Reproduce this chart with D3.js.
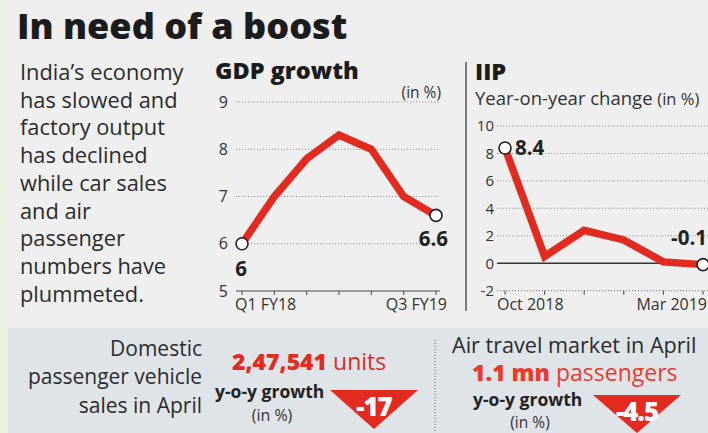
<!DOCTYPE html>
<html>
<head>
<meta charset="utf-8">
<script src="https://cdn.jsdelivr.net/npm/d3@7"></script>
<style>
  body { margin: 0; background: #efefef; }
  svg { display: block; font-family: 'Open Sans', sans-serif; }
</style>
</head>
<body>
<div id="chart"></div>
<script>
// GDP growth, quarterly (in %)
var gdpQuarters = ['Q1 FY18', 'Q2 FY18', 'Q3 FY18', 'Q4 FY18', 'Q1 FY19', 'Q2 FY19', 'Q3 FY19'];
var gdpValues = [6.0, 7.0, 7.8, 8.3, 8.0, 7.0, 6.6];
var gdpTicks = [5, 6, 7, 8, 9];

// IIP, year-on-year change (in %)
var iipMonths = ['Oct 2018', 'Nov 2018', 'Dec 2018', 'Jan 2019', 'Feb 2019', 'Mar 2019'];
var iipValues = [8.4, 0.5, 2.4, 1.7, 0.1, -0.1];
var iipTicks = [-2, 0, 2, 4, 6, 8, 10];

var introLines = ['India\u2019s economy', 'has slowed and', 'factory output', 'has declined',
  'while car sales', 'and air', 'passenger', 'numbers have', 'plummeted.'];

var W = 708, H = 433;
var RED = '#e32a1f';
var DARK = '#222';

var svg = d3.select('#chart').append('svg')
  .attr('width', W)
  .attr('height', H);

// background
svg.append('rect').attr('width', W).attr('height', H).attr('fill', '#efefef');
svg.append('rect').attr('x', 8).attr('y', 328).attr('width', W - 8).attr('height', H - 328).attr('fill', '#dfe4e8');
svg.append('rect').attr('width', 8).attr('height', H).attr('fill', '#edf2e3');

// title
svg.append('text')
  .attr('x', 17).attr('y', 38.5)
  .attr('font-size', 36).attr('font-weight', 800)
  .attr('fill', '#1c1c1c')
  .text('In need of a boost');

// intro paragraph
svg.append('g').selectAll('text')
  .data(introLines)
  .join('text')
  .attr('x', 20)
  .attr('y', function (d, i) { return 80 + i * 27.7; })
  .attr('font-size', 21.8)
  .attr('fill', '#2b2b2b')
  .text(function (d) { return d; });

function lineChart(g, cfg) {
  var x = d3.scalePoint(cfg.cats, cfg.xRange);
  var y = d3.scaleLinear(cfg.yDomain, cfg.yRange);

  // grid lines
  g.append('g').selectAll('line')
    .data(cfg.ticks.filter(function (t) { return t !== cfg.yDomain[0] && t !== cfg.solid; }))
    .join('line')
    .attr('x1', cfg.gridX[0]).attr('x2', cfg.gridX[1])
    .attr('y1', function (d) { return y(d); }).attr('y2', function (d) { return y(d); })
    .attr('stroke', '#9a9a9a').attr('stroke-width', 1).attr('stroke-dasharray', '1.2,1.8');

  // baseline axis (bottom)
  g.append('line')
    .attr('x1', cfg.gridX[0]).attr('x2', cfg.gridX[1])
    .attr('y1', y(cfg.yDomain[0])).attr('y2', y(cfg.yDomain[0]))
    .attr('stroke', cfg.baseDotted ? '#777' : '#444')
    .attr('stroke-width', 1)
    .attr('stroke-dasharray', cfg.baseDotted ? '1.2,1.8' : null);

  g.append('g').selectAll('line')
    .data(cfg.cats)
    .join('line')
    .attr('x1', function (d) { return x(d); }).attr('x2', function (d) { return x(d); })
    .attr('y1', y(cfg.yDomain[0])).attr('y2', y(cfg.yDomain[0]) + 4)
    .attr('stroke', '#444').attr('stroke-width', 1);

  if (cfg.solid !== undefined) {
    g.append('line')
      .attr('x1', cfg.gridX[0]).attr('x2', cfg.gridX[1])
      .attr('y1', y(cfg.solid)).attr('y2', y(cfg.solid))
      .attr('stroke', '#333').attr('stroke-width', 1.3);
  }

  // tick labels
  g.append('g').selectAll('text')
    .data(cfg.ticks)
    .join('text')
    .attr('x', cfg.labelX)
    .attr('y', function (d) { return y(d); })
    .attr('dy', '0.35em')
    .attr('text-anchor', 'end')
    .attr('font-size', cfg.tickSize)
    .attr('fill', '#333')
    .text(function (d) { return d; });

  // first and last category labels
  var first = cfg.cats[0], last = cfg.cats[cfg.cats.length - 1];
  g.append('text')
    .attr('x', x(first) + cfg.catDx[0]).attr('y', 310)
    .attr('font-size', cfg.catSize).attr('fill', '#333')
    .text(first);
  g.append('text')
    .attr('x', x(last) + cfg.catDx[1]).attr('y', 310)
    .attr('text-anchor', 'end')
    .attr('font-size', cfg.catSize).attr('fill', '#333')
    .text(last);

  var line = d3.line()
    .x(function (d, i) { return x(cfg.cats[i]); })
    .y(function (d) { return y(d); });

  g.append('path')
    .datum(cfg.values)
    .attr('d', line)
    .attr('fill', 'none')
    .attr('stroke', RED)
    .attr('stroke-width', 7.5)
    .attr('stroke-linejoin', 'miter');

  var ends = [0, cfg.values.length - 1];
  g.append('g').selectAll('circle')
    .data(ends)
    .join('circle')
    .attr('cx', function (i) { return x(cfg.cats[i]); })
    .attr('cy', function (i) { return y(cfg.values[i]); })
    .attr('r', 6)
    .attr('fill', '#fff')
    .attr('stroke', DARK)
    .attr('stroke-width', 1.6);

  // value labels
  g.append('g').selectAll('text')
    .data(ends)
    .join('text')
    .attr('x', function (i, k) { return cfg.valPos[k][3] !== undefined ? cfg.valPos[k][3] : x(cfg.cats[i]) + cfg.valPos[k][0]; })
    .attr('y', function (i, k) { return y(cfg.values[i]) + cfg.valPos[k][1]; })
    .attr('text-anchor', function (i, k) { return cfg.valPos[k][2]; })
    .attr('font-size', 20.5).attr('font-weight', 700)
    .attr('fill', DARK)
    .text(function (i) { return cfg.values[i]; });

  return {x: x, y: y};
}

// GDP growth
var gdp = svg.append('g');
gdp.append('text')
  .attr('x', 215).attr('y', 79)
  .attr('font-size', 23.5).attr('font-weight', 800).attr('fill', '#1c1c1c')
  .text('GDP growth');
gdp.append('text')
  .attr('x', 441).attr('y', 98).attr('text-anchor', 'end')
  .attr('font-size', 15.5).attr('fill', '#333')
  .text('(in %)');
lineChart(gdp, {
  cats: gdpQuarters,
  values: gdpValues,
  ticks: gdpTicks,
  xRange: [242, 436],
  yDomain: [5, 9],
  yRange: [291, 102],
  gridX: [236, 440],
  labelX: 228,
  tickSize: 16,
  catSize: 16,
  catDx: [-7, 11],
  valPos: [[-1, 32, 'middle'], [12, 31, 'end']]
});

// separator
svg.append('line')
  .attr('x1', 466).attr('x2', 466).attr('y1', 62).attr('y2', 311)
  .attr('stroke', '#555').attr('stroke-width', 1.5);

// IIP
var iip = svg.append('g');
iip.append('text')
  .attr('x', 475).attr('y', 80)
  .attr('font-size', 23.5).attr('font-weight', 800).attr('fill', '#1c1c1c')
  .text('IIP');
var sub = iip.append('text')
  .attr('x', 475).attr('y', 105)
  .attr('font-size', 18.5).attr('fill', '#333');
sub.append('tspan').text('Year-on-year change ');
sub.append('tspan').attr('font-size', 16.5).text('(in %)');
lineChart(iip, {
  cats: iipMonths,
  values: iipValues,
  ticks: iipTicks,
  xRange: [505, 703],
  yDomain: [-2, 10],
  yRange: [290.7, 126],
  gridX: [497, 708],
  labelX: 494,
  tickSize: 15,
  catSize: 16,
  solid: 0,
  baseDotted: true,
  catDx: [-8, 4],
  valPos: [[10, 7, 'start'], [0, -20, 'end', 707]]
});

// bottom panel: car sales
var car = svg.append('g');
car.append('g').selectAll('text')
  .data(['Domestic', 'passenger vehicle', 'sales in April'])
  .join('text')
  .attr('x', 202)
  .attr('y', function (d, i) { return 356 + i * 28.3; })
  .attr('text-anchor', 'end')
  .attr('font-size', 21).attr('fill', '#2b2b2b')
  .text(function (d) { return d; });
var units = car.append('text')
  .attr('x', 232).attr('y', 370)
  .attr('font-size', 23).attr('fill', RED);
units.append('tspan').attr('font-weight', 800).text('2,47,541');
units.append('tspan').text(' units');
car.append('text')
  .attr('x', 215).attr('y', 398)
  .attr('font-size', 17.5).attr('font-weight', 700).attr('fill', DARK)
  .text('y-o-y growth');
car.append('text')
  .attr('x', 272).attr('y', 421).attr('text-anchor', 'middle')
  .attr('font-size', 16).attr('fill', '#333')
  .text('(in %)');

function downBadge(g, cx, top, w, h, label) {
  g.append('path')
    .attr('d', d3.line()([[cx - w / 2, top], [cx + w / 2, top], [cx, top + h]]) + 'Z')
    .attr('fill', RED);
  g.append('text')
    .attr('x', cx).attr('y', top + 26)
    .attr('text-anchor', 'middle')
    .attr('font-size', 26).attr('font-weight', 800)
    .attr('letter-spacing', -1)
    .attr('fill', '#fff')
    .text(label);
}
downBadge(car, 374, 390, 88, 39, '-17');

// dotted separator
svg.append('line')
  .attr('x1', 435).attr('x2', 435).attr('y1', 340).attr('y2', 431)
  .attr('stroke', '#666').attr('stroke-width', 1).attr('stroke-dasharray', '1,2');

// bottom panel: air travel
var air = svg.append('g');
air.append('text')
  .attr('x', 452).attr('y', 353)
  .attr('font-size', 21.6).attr('fill', '#2b2b2b')
  .text('Air travel market in April');
var pax = air.append('text')
  .attr('x', 472).attr('y', 381)
  .attr('font-size', 23).attr('fill', '#ec3a2a');
pax.append('tspan').attr('font-weight', 800).text('1.1 mn');
pax.append('tspan').text(' passengers');
air.append('text')
  .attr('x', 473).attr('y', 405.5)
  .attr('font-size', 17.5).attr('font-weight', 700).attr('fill', DARK)
  .text('y-o-y growth');
air.append('text')
  .attr('x', 530).attr('y', 428).attr('text-anchor', 'middle')
  .attr('font-size', 15.5).attr('fill', '#333')
  .text('(in %)');
downBadge(air, 637, 395, 88, 38, '-4.5');
</script>
</body>
</html>
